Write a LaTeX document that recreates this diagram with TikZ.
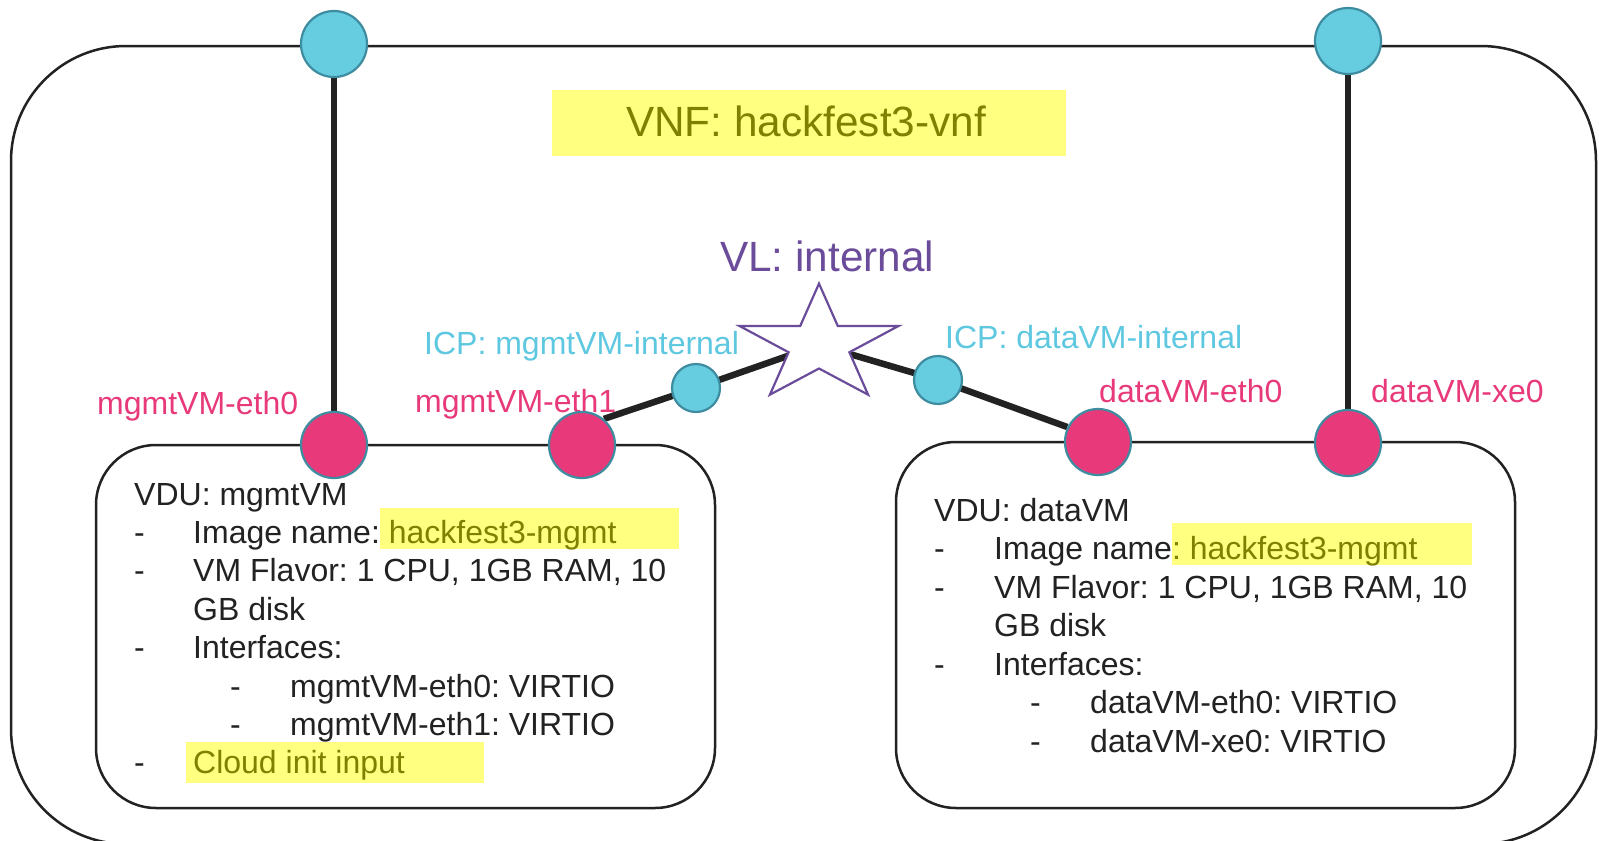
\documentclass[tikz,border=0pt]{standalone}
\usepackage{fontspec}
\setmainfont{Liberation Sans}
\usetikzlibrary{calc}
\pgfdeclarelayer{bg}
\pgfsetlayers{bg,main}
\definecolor{cyanfill}{RGB}{102,204,224}
\definecolor{ringc}{RGB}{62,140,160}
\definecolor{pinkc}{RGB}{232,57,122}
\definecolor{icptext}{RGB}{95,200,225}
\definecolor{vlpurple}{RGB}{107,76,154}
\definecolor{hlyellow}{RGB}{255,255,128}
\definecolor{olivetxt}{RGB}{128,128,0}
\definecolor{ink}{RGB}{34,34,34}
\begin{document}
\frenchspacing
\begin{tikzpicture}[x=1pt,y=-1pt,
  box/.style={draw=ink, line width=2.5pt, rounded corners=60pt},
  link/.style={draw=ink, line width=6.5pt},
  cp/.style={circle, draw=ringc, line width=2.2pt, fill=cyanfill, minimum size=66pt, inner sep=0pt},
  icp/.style={cp, minimum size=48pt},
  ifc/.style={circle, draw=ringc, line width=2.2pt, fill=pinkc, minimum size=66pt, inner sep=0pt},
  txt/.style={anchor=base west, inner sep=0pt, font=\fontsize{32}{38}\selectfont\frenchspacing, text=ink},
  pinklbl/.style={txt, text=pinkc},
  icplbl/.style={txt, text=icptext},
  big/.style={anchor=base west, inner sep=0pt, font=\fontsize{42.3}{48}\selectfont\frenchspacing},
  hlbox/.style={fill=hlyellow}
]
\useasboundingbox (0,0) rectangle (1599,841);
\begin{pgfonlayer}{bg}
\fill[white] (0,0) rectangle (1599,841);
\end{pgfonlayer}

% outer VNF box
\draw[box, rounded corners=115pt] (11,46) rectangle (1596,844);
% VDU boxes
\draw[box] (96,445) rectangle (715,808);
\draw[box] (896,442) rectangle (1515,808);

% highlights
\fill[hlbox] (552,90) rectangle (1066,156);
\fill[hlbox] (380,508) rectangle (679,549);
\fill[hlbox] (186,742) rectangle (484,783);
\fill[hlbox] (1172,523) rectangle (1472,565);

% titles
\node[big, text=olivetxt] (vnf) at (626,136) {VNF: hackfest3-vnf};
\node[big, text=vlpurple] (vltxt) at (720,271) {VL: internal};

% connection point labels
\node[icplbl] (icpLtxt) at (424,354) {ICP: mgmtVM-internal};
\node[icplbl] (icpRtxt) at (945,348) {ICP: dataVM-internal};
\node[pinklbl] (me0txt) at (97,414) {mgmtVM-eth0};
\node[pinklbl] (me1txt) at (415,412) {mgmtVM-eth1};
\node[pinklbl] (de0txt) at (1099,402) {dataVM-eth0};
\node[pinklbl] (dx0txt) at (1371,402) {dataVM-xe0};

% left VDU text
\node[txt] (l1) at (134,505) {VDU: mgmtVM};
\node[txt] (l2d) at (134,543.4) {-};
\node[txt] (l2) at (193,543.4) {Image name: \textcolor{olivetxt}{hackfest3-mgmt}};
\node[txt] (l3d) at (134,581.8) {-};
\node[txt] (l3) at (193,581.8) {VM Flavor: 1 CPU, 1GB RAM, 10};
\node[txt] (l4) at (193,620.2) {GB disk};
\node[txt] (l5d) at (134,658.6) {-};
\node[txt] (l5) at (193,658.6) {Interfaces:};
\node[txt] (l6d) at (230,697) {-};
\node[txt] (l6) at (290,697) {mgmtVM-eth0: VIRTIO};
\node[txt] (l7d) at (230,735.4) {-};
\node[txt] (l7) at (290,735.4) {mgmtVM-eth1: VIRTIO};
\node[txt] (l8d) at (134,773.8) {-};
\node[txt, text=olivetxt] (l8) at (193,773.8) {Cloud init input};

% right VDU text
\node[txt] (r1) at (934,521) {VDU: dataVM};
\node[txt] (r2d) at (934,559.5) {-};
\node[txt] (r2) at (994,559.5) {Image name\textcolor{olivetxt}{: hackfest3-mgmt}};
\node[txt] (r3d) at (934,598) {-};
\node[txt] (r3) at (994,598) {VM Flavor: 1 CPU, 1GB RAM, 10};
\node[txt] (r4) at (994,636.5) {GB disk};
\node[txt] (r5d) at (934,675) {-};
\node[txt] (r5) at (994,675) {Interfaces:};
\node[txt] (r6d) at (1030,713.5) {-};
\node[txt] (r6) at (1090,713.5) {dataVM-eth0: VIRTIO};
\node[txt] (r7d) at (1030,752) {-};
\node[txt] (r7) at (1090,752) {dataVM-xe0: VIRTIO};

% connection points
\coordinate (vl) at (819,345);
\node[cp] (topL) at (334,44) {};
\node[cp] (topR) at (1348,41) {};
\node[icp] (icpL) at (696,388) {};
\node[icp] (icpR) at (938,380) {};
\node[ifc] (me0) at (334,445) {};
\node[ifc] (me1) at (582,445) {};
\node[ifc] (de0) at (1098,442) {};
\node[ifc] (dx0) at (1348,443) {};

% links (behind)
\begin{pgfonlayer}{bg}
\draw[link] (topL.center) -- (me0.center);
\draw[link] (topR.center) -- (dx0.center);
\draw[link] (me1.50) -- (icpL.center) -- (vl);
\draw[link] (vl) -- (icpR.center) -- (de0.154);
\end{pgfonlayer}

% VL star
\filldraw[fill=white, draw=vlpurple, line width=2.2pt, line join=miter, shift={(vl)}, xscale=1.36]
  (-90:61.4) -- (-126:23.5) -- (-162:61.4) -- (-198:23.5) -- (-234:61.4) -- (-270:23.5)
  -- (-306:61.4) -- (-342:23.5) -- (-18:61.4) -- (-54:23.5) -- cycle;
\end{tikzpicture}
\end{document}
